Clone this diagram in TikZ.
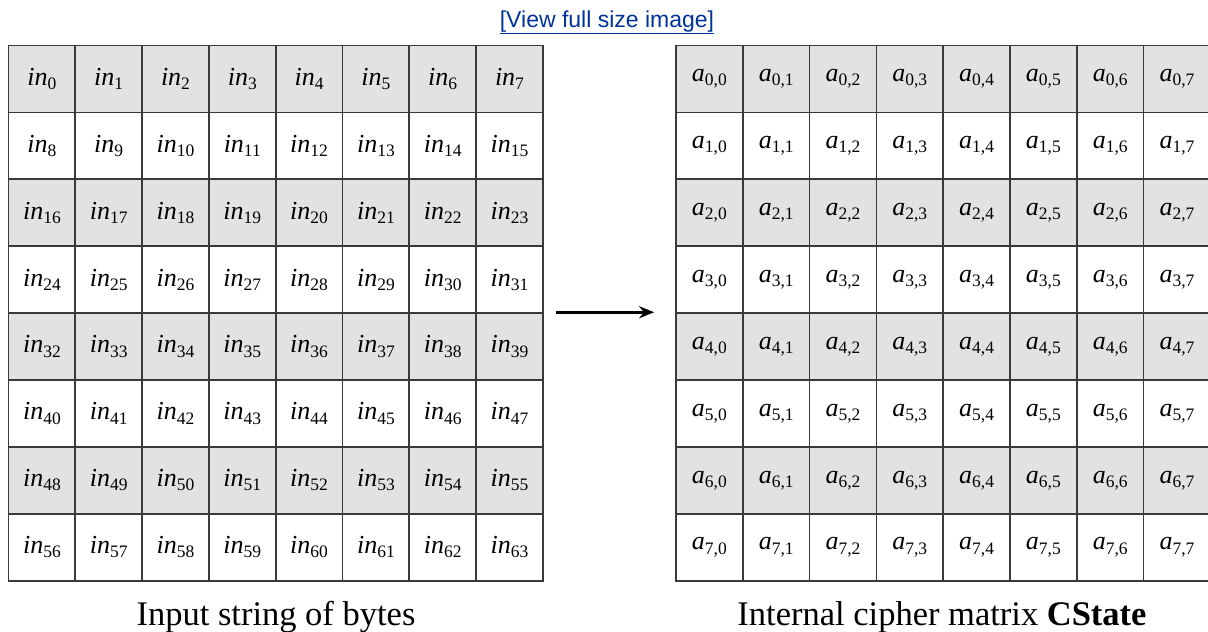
\documentclass[tikz,border=0pt]{standalone}
\usepackage{fontspec}
\setmainfont{Liberation Serif}
\newfontfamily\linkfont{Liberation Sans}
\usepackage{tikz}
\usetikzlibrary{arrows.meta}

\definecolor{cellgray}{RGB}{226,226,226}
\definecolor{gridline}{RGB}{58,58,58}
\definecolor{linkblue}{RGB}{0,51,153}

% cell texts
\newcommand{\cellsub}[1]{\raisebox{-0.35ex}{\fontsize{17.5}{17.5}\selectfont #1}}
\newcommand{\inbyte}[1]{{\itshape in}\cellsub{#1}}
\newcommand{\stateel}[1]{{\itshape a}\cellsub{#1}}

\tikzset{
  cell/.style={draw=gridline, line width=1.7pt, minimum width=66.8pt,
    minimum height=66.9pt, inner sep=0pt, font=\fontsize{26}{26}\selectfont},
  row0/.style={fill=cellgray},
  row1/.style={fill=white},
  caption/.style={anchor=base, font=\fontsize{34.5}{34.5}\selectfont},
  flow/.style={line width=3pt, -{Stealth[length=15pt,width=12pt]}}
}

\begin{document}
\begin{tikzpicture}[x=1pt,y=-1pt]
\useasboundingbox (0,0) rectangle (1208,632);

% link
\node[anchor=base, text=linkblue, font=\linkfont\fontsize{23}{23}\selectfont]
  (link) at (607,27) {\underline{[View full size image]}};

% the two grids
\foreach \r in {0,...,7} {
  \foreach \c in {0,...,7} {
    \pgfmathtruncatemacro\k{8*\r+\c}
    \pgfmathtruncatemacro\p{mod(\r,2)}
    \node[cell, row\p] (in-\r-\c) at ({8.5+(\c+0.5)*66.8}, {45.5+(\r+0.5)*66.9}) {\inbyte{\k}};
    \node[cell, row\p] (a-\r-\c) at ({676+(\c+0.5)*66.8}, {45.5+(\r+0.5)*66.9}) {\stateel{\r,\c}};
  }
}

% arrow
\draw[flow, shorten <=12pt, shorten >=21pt] (in-4-7.north east) -- (a-4-0.north west);

% captions
\node[caption] (incap) at (276,625) {Input string of bytes};
\node[caption] (acap) at (942,625) {Internal cipher matrix \textbf{CState}};
\end{tikzpicture}
\end{document}
